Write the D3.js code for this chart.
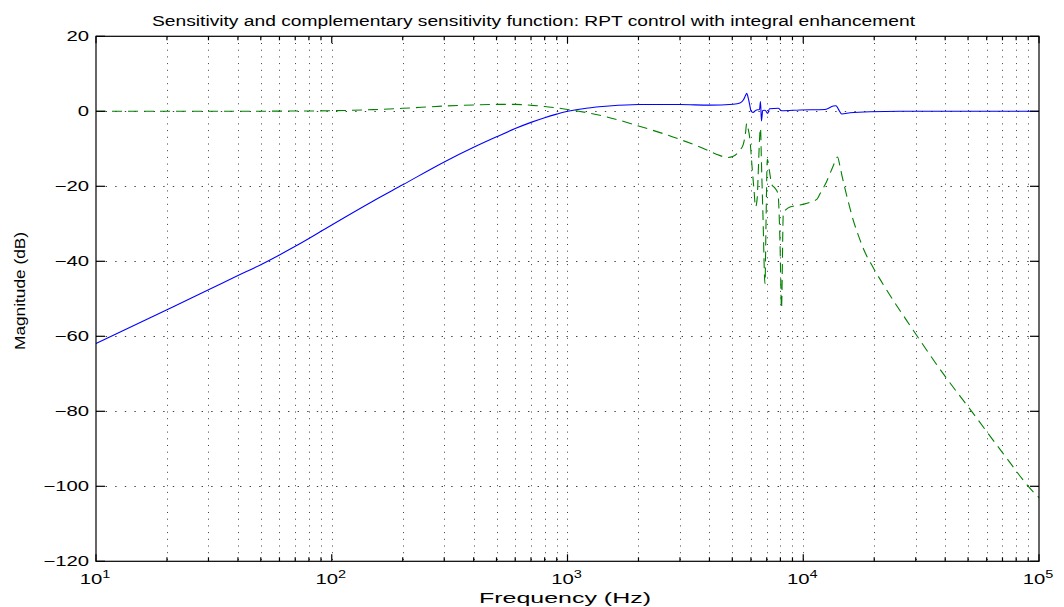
<!DOCTYPE html>
<html>
<head>
<meta charset="utf-8">
<script src="https://cdn.jsdelivr.net/npm/d3@7"></script>
<style>
  html, body { margin: 0; padding: 0; background: #fff; }
  svg text { font-family: "Liberation Sans", Arial, Helvetica, sans-serif; fill: #000; }
</style>
</head>
<body>
<svg id="chart" width="1064" height="607"></svg>
<script>
// Sensitivity S (solid blue), magnitude in dB vs frequency in Hz
const freqS = [10, 20, 30, 40, 50, 60, 70, 80, 90, 100, 150, 200, 300, 400, 500, 600, 700, 800, 900,
  1000, 1200, 1500, 2000, 3000, 4000, 5050, 5391, 5568, 5689, 5756, 5830, 5916, 6003, 6122, 6303,
  6522, 6586, 6650, 6728, 6883, 7067, 7192, 7837, 8102, 9687, 12370, 13411, 13769, 14111, 14560,
  15790, 19195, 25727, 100000];
const magS = [-61.9, -52.9, -47.6, -43.8, -40.9, -38.3, -36.0, -33.9, -32.0, -30.3, -23.9, -19.6, -13.5, -9.6, -6.8, -4.6, -2.95, -1.7, -0.75,
  0.0, 0.8, 1.4, 1.8, 1.8, 1.65, 1.9, 2.2, 3.0, 4.2, 4.8, 3.8, 2.0, 0.1, -0.3, 0.3,
  0.5, 2.6, -2.6, 0.2, 0.3, -0.6, 0.7, 0.8, 0.15, 0.35, 0.5, 1.4, 1.5, 0.5, -0.7,
  -0.4, -0.1, 0, 0];

// Complementary sensitivity T (dashed green)
const freqT = [10, 30, 60, 100, 150, 200, 300, 400, 500, 600, 700, 800, 900, 1000, 1100, 1470, 2000, 3000, 4000,
  4300, 4580, 4800, 5050, 5250, 5391, 5568, 5689, 5756, 5830, 5945, 6062, 6182, 6274, 6384, 6428, 6586, 6650, 6748, 6883,
  6951, 7039, 7192, 7348, 7588, 7815, 7969, 8087, 8230, 8449, 8787, 9687, 10373, 11437, 11776, 12610,
  13370, 13974, 14300, 14603, 15332, 16256, 17406, 17923, 19765, 21797, 28931, 39154, 52486, 70372, 94312, 100000];
const magT = [0, 0, 0.05, 0.15, 0.45, 0.8, 1.4, 1.7, 1.85, 1.85, 1.6, 1.3, 0.9, 0.5, 0.1, -1.5, -3.9, -7.5, -10.6,
  -11.5, -12.1, -12.3, -12.0, -11.2, -10.3, -8.8, -5.8, -3.2, -4.5, -7.7, -14.6, -21, -25.5, -22.9, -18, -4.5, -14, -28, -46,
  -30, -12.8, -16, -19.5, -20.5, -22, -35, -52.5, -27.2, -26.2, -25.5, -25, -24.5, -23.4, -22, -18.5,
  -14.7, -12.2, -14.5, -17.2, -22.8, -28.8, -34.3, -36.4, -41.6, -46.1, -57.9, -69.9, -80.5, -91.2, -101.4, -103];

const yTickValues = [-120, -100, -80, -60, -40, -20, 0, 20];
const yTickLabels = ["\u2212120", "\u2212100", "\u221280", "\u221260", "\u221240", "\u221220", "0", "20"];
const xDecades = [10, 100, 1000, 10000, 100000];
const xDecadeExponents = ["1", "2", "3", "4", "5"];

const titleText = "Sensitivity and complementary sensitivity function: RPT control with integral enhancement";
const xLabelText = "Frequency (Hz)";
const yLabelText = "Magnitude (dB)";

const svg = d3.select("#chart");
const plotLeft = 96, plotRight = 1039, plotTop = 36.3, plotBottom = 561.3;
const TEXT_SX = 1.45; // horizontal stretch of tick text

const x = d3.scaleLog().domain([10, 1e5]).range([plotLeft, plotRight]);
const y = d3.scaleLinear().domain([-120, 20]).range([plotBottom, plotTop]);

// minor log positions (2..9 per decade)
const minorTicks = [];
for (let d = 10; d < 1e5; d *= 10) for (let k = 2; k <= 9; k++) minorTicks.push(d * k);

// grid
const grid = svg.append("g").attr("stroke", "#000").attr("stroke-width", 1).attr("opacity", 0.75);
grid.selectAll("line.v").data(minorTicks.concat(xDecades.slice(1, -1))).join("line")
  .attr("x1", d => Math.round(x(d)) + 0.5).attr("x2", d => Math.round(x(d)) + 0.5)
  .attr("y1", plotTop).attr("y2", plotBottom)
  .attr("stroke-dasharray", "1,5.7");
grid.selectAll("line.h").data(yTickValues.slice(1, -1)).join("line")
  .attr("x1", plotLeft).attr("x2", plotRight)
  .attr("y1", d => Math.round(y(d)) + 0.5).attr("y2", d => Math.round(y(d)) + 0.5)
  .attr("stroke-dasharray", "1.4,8.2");

// curves
const line = d3.line().x(d => x(d[0])).y(d => y(d[1])).curve(d3.curveMonotoneX);
svg.append("path").datum(freqS.map((f, i) => [f, magS[i]]))
  .attr("fill", "none").attr("stroke", "#0000ff").attr("stroke-width", 1.1).attr("d", line);
svg.append("path").datum(freqT.map((f, i) => [f, magT[i]]))
  .attr("fill", "none").attr("stroke", "#008000").attr("stroke-width", 1.1)
  .attr("stroke-dasharray", "10,6").attr("d", line);

// axes box and ticks
const ax = svg.append("g").attr("stroke", "#000").attr("stroke-width", 1.2);
ax.append("rect").attr("x", plotLeft).attr("y", plotTop).attr("width", plotRight - plotLeft).attr("height", plotBottom - plotTop).attr("fill", "none");
ax.selectAll("line.yt").data(yTickValues).join("line")
  .attr("x1", plotLeft).attr("x2", plotLeft + 9).attr("y1", d => y(d)).attr("y2", d => y(d));
ax.selectAll("line.yt2").data(yTickValues).join("line")
  .attr("x1", plotRight).attr("x2", plotRight - 9).attr("y1", d => y(d)).attr("y2", d => y(d));
ax.selectAll("line.xt").data(xDecades).join("line")
  .attr("x1", d => x(d)).attr("x2", d => x(d)).attr("y1", plotBottom).attr("y2", plotBottom - 7);
ax.selectAll("line.xt2").data(xDecades).join("line")
  .attr("x1", d => x(d)).attr("x2", d => x(d)).attr("y1", plotTop).attr("y2", plotTop + 7);
ax.selectAll("line.xm").data(minorTicks).join("line")
  .attr("x1", d => x(d)).attr("x2", d => x(d)).attr("y1", plotBottom).attr("y2", plotBottom - 4);
ax.selectAll("line.xm2").data(minorTicks).join("line")
  .attr("x1", d => x(d)).attr("x2", d => x(d)).attr("y1", plotTop).attr("y2", plotTop + 4);

function stretchedText(parent, tx, ty, str, size, anchor) {
  return parent.append("text")
    .attr("transform", `translate(${tx},${ty}) scale(${TEXT_SX},1)`)
    .attr("font-size", size).attr("text-anchor", anchor).text(str);
}

// y tick labels
yTickValues.forEach((v, i) => stretchedText(svg, 89, y(v) + 5, yTickLabels[i], 14, "end"));

// x tick labels: 10 with superscript exponent
xDecades.forEach((v, i) => {
  const t = svg.append("text")
    .attr("transform", `translate(${x(v) - 1},584) scale(${TEXT_SX},1)`)
    .attr("font-size", 14).attr("text-anchor", "middle");
  t.append("tspan").text("10");
  t.append("tspan").attr("font-size", 10).attr("dy", -6).text(xDecadeExponents[i]);
});

// title and axis labels, fitted to their drawn widths
svg.append("text").attr("x", 533.5).attr("y", 26).attr("font-size", 14)
  .attr("text-anchor", "middle").attr("textLength", 763).attr("lengthAdjust", "spacingAndGlyphs")
  .text(titleText);
svg.append("text").attr("x", 565).attr("y", 603).attr("font-size", 14.5)
  .attr("text-anchor", "middle").attr("textLength", 172).attr("lengthAdjust", "spacingAndGlyphs")
  .text(xLabelText);
svg.append("text")
  .attr("transform", `translate(25,291) rotate(-90)`)
  .attr("font-size", 14).attr("text-anchor", "middle")
  .attr("textLength", 118).attr("lengthAdjust", "spacingAndGlyphs")
  .text(yLabelText);
</script>
</body>
</html>
